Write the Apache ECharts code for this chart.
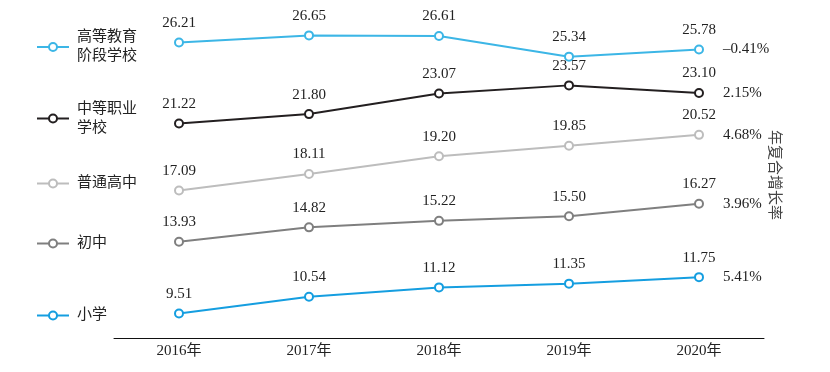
<!DOCTYPE html>
<html><head><meta charset="utf-8">
<script src="https://cdn.jsdelivr.net/npm/echarts@6/dist/echarts.min.js"></script>
<style>html,body{margin:0;padding:0;background:#fff}#c{width:830px;height:372px}</style>
</head><body><div id="c"></div>
<script>
const categories = ['2016年','2017年','2018年','2019年','2020年'];
const seriesNames = ['高等教育阶段学校','中等职业学校','普通高中','初中','小学'];
const legendLabels = ['高等教育\n阶段学校','中等职业\n学校','普通高中','初中','小学'];
const higherEdu = [26.21, 26.65, 26.61, 25.34, 25.78];
const vocational = [21.22, 21.80, 23.07, 23.57, 23.10];
const highSchool = [17.09, 18.11, 19.20, 19.85, 20.52];
const middleSchool = [13.93, 14.82, 15.22, 15.50, 16.27];
const primary = [9.51, 10.54, 11.12, 11.35, 11.75];
const cagr = ['–0.41%', '2.15%', '4.68%', '3.96%', '5.41%'];
const colors = ['#3cb6e6', '#231f20', '#bdbdbd', '#7f7f7f', '#159ee0'];
const allData = [higherEdu, vocational, highSchool, middleSchool, primary];

const serif = '"Liberation Serif","Noto Sans CJK SC",serif';
const legendTops = [23, 85, 169, 229, 301];
const legendPads = [[0,0,0,3],[19,0,0,3],[0,0,0,3],[0,0,0,3],[0,0,0,3]];

const chart = echarts.init(document.getElementById('c'));
chart.setOption({
  animation: false,
  grid: {left: 114, right: 66, top: 13.5, bottom: 34},
  xAxis: {
    type: 'category', data: categories, boundaryGap: true,
    axisLine: {lineStyle: {color: '#111', width: 1}},
    axisTick: {show: false},
    axisLabel: {color: '#222', fontFamily: serif, fontSize: 15, margin: 6}
  },
  yAxis: {type: 'value', min: 8, max: 28, show: false, splitLine: {show: false}},
  legend: seriesNames.map((n, i) => ({
    data: [n], left: 31, top: legendTops[i], orient: 'vertical',
    itemWidth: 32, itemHeight: 10,
    formatter: () => legendLabels[i],
    textStyle: {fontFamily: serif, fontSize: 15, color: '#222', lineHeight: 19, padding: legendPads[i]}
  })),
  graphic: [{
    type: 'text', left: 768, top: 130, rotation: -Math.PI / 2,
    style: {text: '年复合增长率', font: '15px "Noto Sans CJK SC"', fill: '#444'}
  }],
  series: seriesNames.map((n, i) => ({
    name: n, type: 'line', data: allData[i],
    color: colors[i],
    symbol: 'emptyCircle', symbolSize: 8,
    lineStyle: {width: 2},
    itemStyle: {borderWidth: 2},
    label: {show: true, position: 'top', distance: 7, color: '#222', fontFamily: serif, fontSize: 15,
      formatter: p => p.value.toFixed(2)},
    endLabel: {show: true, formatter: () => cagr[i], distance: 24, color: '#222', fontFamily: serif, fontSize: 15},
    emphasis: {disabled: true}
  }))
});
</script></body></html>
